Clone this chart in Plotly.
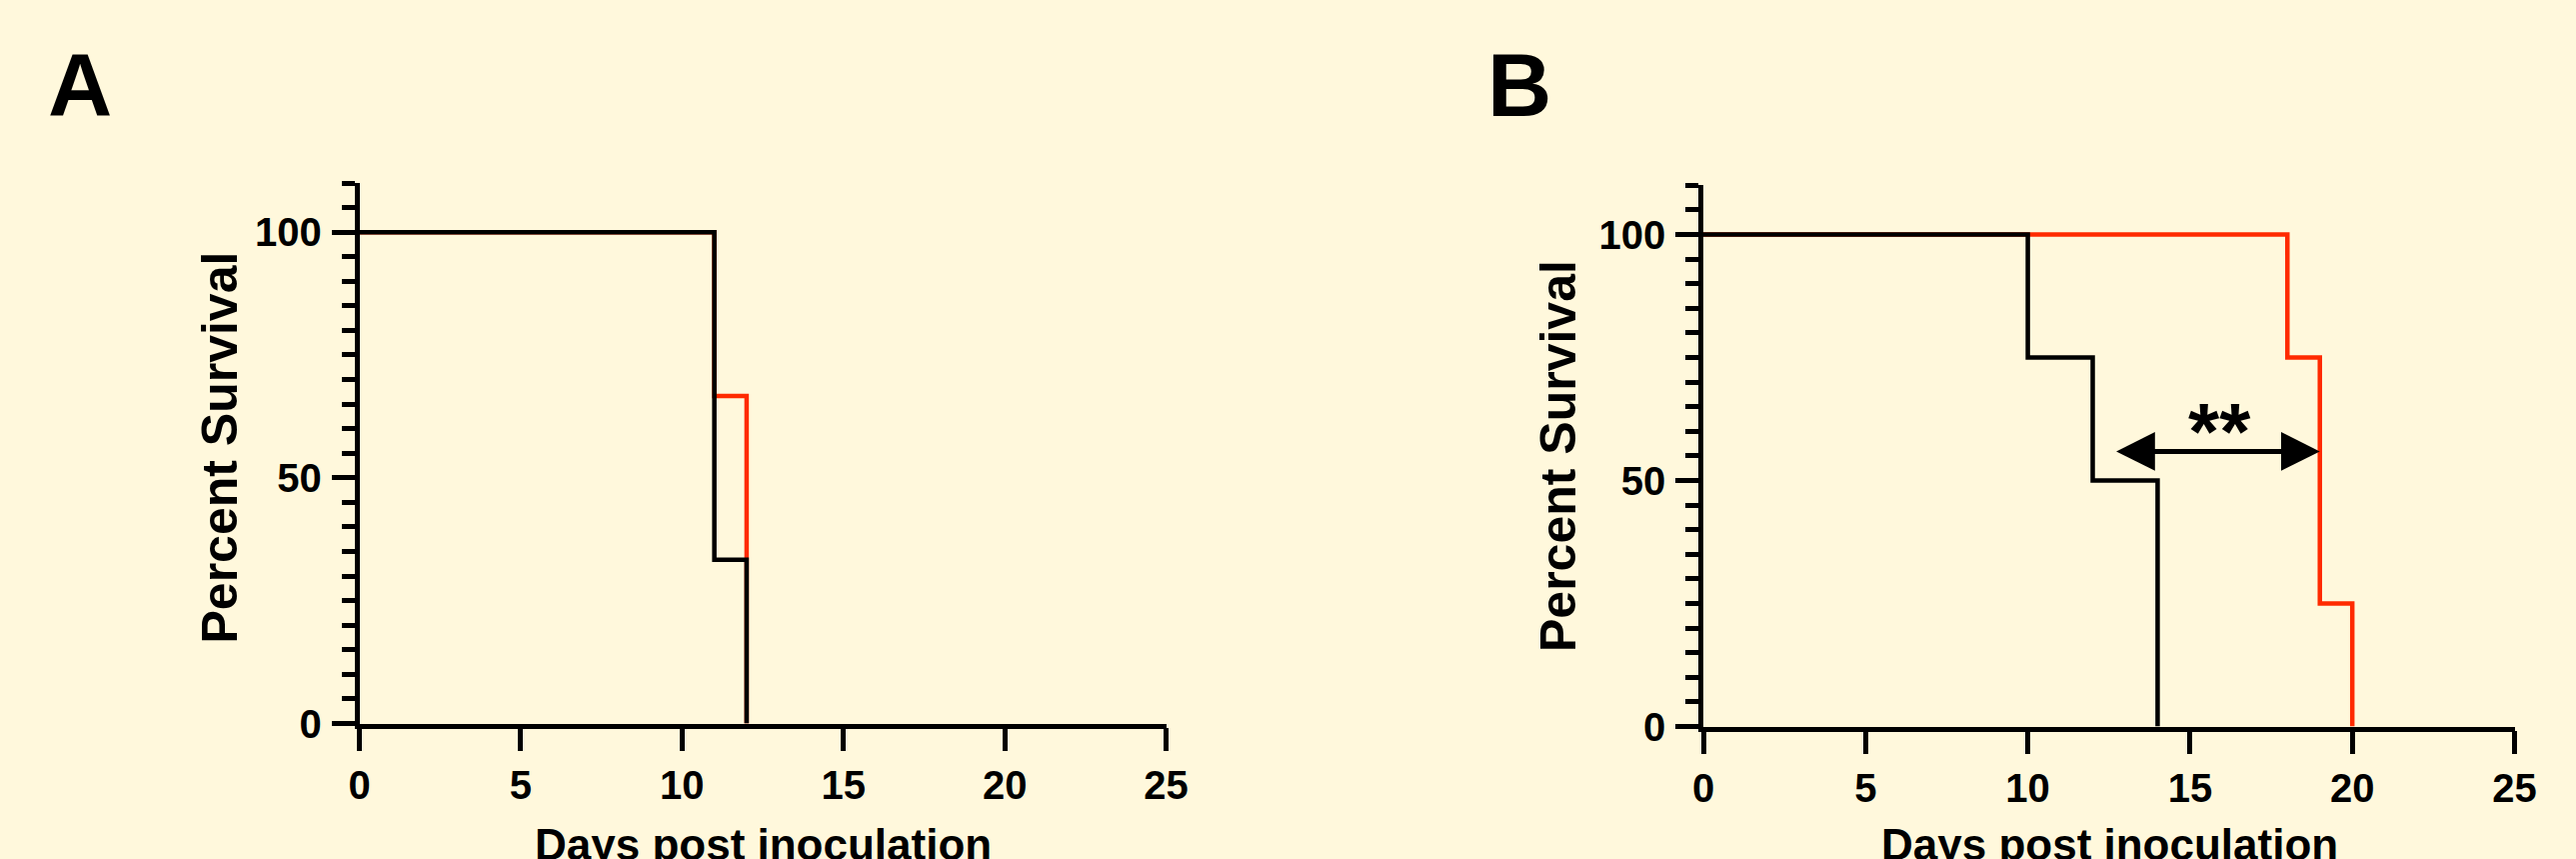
import plotly.graph_objects as go

# ---------------- data ----------------
days_A_red = [0, 11, 12]
surv_A_red = [100, 66.67, 0]
days_A_black = [0, 11, 12]
surv_A_black = [100, 33.33, 0]

days_B_black = [0, 10, 12, 14]
surv_B_black = [100, 75, 50, 0]
days_B_red = [0, 18, 19, 20]
surv_B_red = [100, 75, 25, 0]

x_ticks = [0, 5, 10, 15, 20, 25]
y_ticks = [0, 50, 100]

sig_arrow_x = [12.68, 19.0]
sig_arrow_y = 55.9
sig_text = "**"
sig_text_x = 15.9
sig_text_y = 60.0

panel_labels = ["A", "B"]
x_title = "Days post inoculation"
y_title = "Percent Survival"

# ---------------- style ----------------
W, H = 2577, 859
BG = "#FFF8DC"
RED = "#FF2A00"
BLACK = "#000000"
FONT = "Liberation Sans"
LW = 4.5

def px(x):
    return x / W

def py(y):
    return 1 - y / H

fig = go.Figure()

def add_curve(xs, ys, color, xa, ya):
    fig.add_trace(go.Scatter(
        x=xs, y=ys, mode="lines", line=dict(color=color, width=LW, shape="hv"),
        xaxis=xa, yaxis=ya, cliponaxis=False, showlegend=False, hoverinfo="skip"))

add_curve(days_A_red, surv_A_red, RED, "x", "y")
add_curve(days_A_black, surv_A_black, BLACK, "x", "y")
add_curve(days_B_red, surv_B_red, RED, "x2", "y2")
add_curve(days_B_black, surv_B_black, BLACK, "x2", "y2")

tickfont = dict(family=FONT, size=40, color="black", weight="bold")

def xaxis_cfg(domain, anchor):
    return dict(domain=domain, anchor=anchor, range=[0, 25], tickmode="array",
                tickvals=x_ticks, ticktext=[str(v) for v in x_ticks],
                showline=True, linecolor="black", linewidth=LW, mirror=False,
                ticks="outside", ticklen=23, tickwidth=LW, tickcolor="black",
                showgrid=False, zeroline=False, tickfont=tickfont, automargin=False,
                ticklabelstandoff=0, fixedrange=True)

def yaxis_cfg(domain, anchor):
    return dict(domain=domain, anchor=anchor, range=[0, 110], tickmode="array",
                tickvals=y_ticks, ticktext=[str(v) for v in y_ticks],
                showline=True, linecolor="black", linewidth=LW, mirror=False,
                ticks="outside", ticklen=23, tickwidth=LW, tickcolor="black",
                minor=dict(dtick=5, tick0=0, ticks="outside", ticklen=13,
                           tickwidth=LW, tickcolor="black", showgrid=False),
                showgrid=False, zeroline=False, tickfont=tickfont, automargin=False,
                ticklabelstandoff=2, fixedrange=True)

fig.update_layout(
    template="none",
    width=W, height=H, autosize=False,
    margin=dict(l=0, r=0, t=0, b=0, pad=0, autoexpand=False),
    paper_bgcolor=BG, plot_bgcolor=BG,
    xaxis=xaxis_cfg([px(359.5), px(1166.6)], "y"),
    yaxis=yaxis_cfg([py(723.5), py(183.0)], "x"),
    xaxis2=xaxis_cfg([px(1704.0), px(2515.5)], "y2"),
    yaxis2=yaxis_cfg([py(726.5), py(185.3)], "x2"),
)

ann = []
for lab, cx in zip(panel_labels, [80, 1519.5]):
    ann.append(dict(text=lab, x=px(cx), y=py(85), xref="paper", yref="paper",
                    xanchor="center", yanchor="middle", showarrow=False,
                    font=dict(family=FONT, size=89, color="black", weight="bold")))
for cx, cy in [(220, 447.5), (1558.5, 456.5)]:
    ann.append(dict(text=y_title, x=px(cx), y=py(cy), xref="paper", yref="paper",
                    xanchor="center", yanchor="middle", textangle=-90, showarrow=False,
                    font=dict(family=FONT, size=50, color="black", weight="bold")))
for cx in [763, 2110]:
    ann.append(dict(text=x_title, x=px(cx), y=py(844), xref="paper", yref="paper",
                    xanchor="center", yanchor="middle", showarrow=False,
                    font=dict(family=FONT, size=44, color="black", weight="bold")))
ann.append(dict(text="", x=sig_arrow_x[1], y=sig_arrow_y, ax=sig_arrow_x[0], ay=sig_arrow_y,
                xref="x2", yref="y2", axref="x2", ayref="y2", showarrow=True,
                arrowside="end+start", arrowhead=2, startarrowhead=2,
                arrowwidth=5, arrowsize=1.55, startarrowsize=1.55, arrowcolor="black"))
ann.append(dict(text=sig_text, x=sig_text_x, y=sig_text_y, xref="x2", yref="y2",
                xanchor="center", yanchor="middle", showarrow=False,
                font=dict(family=FONT, size=80, color="black", weight="bold")))

fig.update_layout(annotations=ann)

post = "document.body.style.margin='0';document.body.style.background='%s';" % BG
fig.write_html("out.html", post_script=post, config={"displayModeBar": False})
